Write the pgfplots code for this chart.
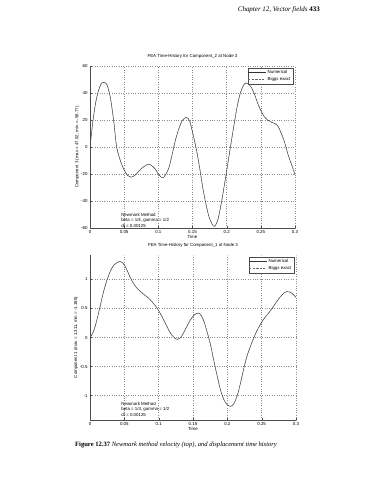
\documentclass[border=0pt]{standalone}
\usepackage{pgfplots}
\pgfplotsset{compat=1.18}
\usepackage{fontspec}
\setmainfont{Liberation Serif}
\newfontfamily\hv{Liberation Sans}
\newcommand{\sm}{\hv\fontsize{4.4}{5.4}\selectfont}

\pgfplotstableread{
t y
0 0
0.004 18
0.008 32
0.012 41
0.016 46.5
0.02 47.9
0.025 46
0.03 36
0.035 18
0.039 0
0.045 -11
0.05 -17
0.055 -21
0.061 -22.3
0.068 -20
0.075 -16
0.086 -12.8
0.095 -16
0.1 -20
0.107 -22.8
0.115 -16
0.12 -6
0.125 5
0.13 13.5
0.135 19.5
0.141 22
0.146 19
0.15 11
0.155 0
0.16 -14
0.165 -30
0.17 -43
0.175 -53
0.1816 -58.8
0.187 -54
0.192 -42
0.198 -24
0.2055 0
0.21 14
0.215 29
0.22 40
0.225 46
0.229 47.4
0.235 45
0.24 40
0.245 33
0.25 27
0.255 22.5
0.26 20
0.265 18.5
0.27 17.5
0.275 15.5
0.28 10
0.285 3
0.29 -6
0.295 -13
0.3 -20.6
}\topdata

\pgfplotstableread{
t y
0 0
0.005 0.1
0.01 0.3
0.015 0.55
0.02 0.8
0.025 1.0
0.03 1.15
0.035 1.25
0.0437 1.31
0.05 1.25
0.055 1.13
0.06 1.0
0.065 0.9
0.07 0.83
0.0777 0.75
0.085 0.68
0.09 0.62
0.097 0.52
0.103 0.4
0.11 0.24
0.115 0.12
0.12 0.03
0.126 -0.03
0.132 0.0
0.138 0.12
0.145 0.28
0.152 0.39
0.158 0.42
0.163 0.36
0.168 0.2
0.175 -0.1
0.18 -0.38
0.185 -0.65
0.19 -0.9
0.195 -1.07
0.2 -1.16
0.204 -1.185
0.209 -1.15
0.215 -0.98
0.22 -0.74
0.225 -0.48
0.23 -0.27
0.238 -0.02
0.245 0.16
0.252 0.3
0.26 0.42
0.268 0.55
0.275 0.67
0.282 0.76
0.287 0.79
0.292 0.78
0.296 0.74
0.3 0.69
}\botdata

\pgfplotsset{
  mystyle/.style={
    scale only axis,
    anchor=south west,
    axis x line*=bottom,
    axis y line*=left,
    axis line style={black!70, line width=0.4pt},
    xmin=0, xmax=0.3,
    xtick={0,0.05,0.1,0.15,0.2,0.25,0.3},
    xticklabels={0,0.05,0.1,0.15,0.2,0.25,0.3},
    grid=major,
    major grid style={dotted, black!45, line width=0.35pt},
    tick align=inside,
    major tick length=2bp,
    tick style={black!70, line width=0.3pt},
    tick label style={font=\sm},
    /pgf/number format/assume math mode=true,
    xticklabel style={yshift=1bp},
    yticklabel style={xshift=1bp},
    label style={font=\sm},
    title style={font=\sm, yshift=-2bp},
    xlabel={Time},
    xlabel style={yshift=5bp},
    ylabel style={yshift=-5bp},
    legend style={font=\sm, at={(rel axis cs:0.99,0.99)}, anchor=north east,
      draw=black!70, line width=0.3pt, inner sep=0.5bp, row sep=-2bp,
      cells={anchor=west}},
    legend image post style={line width=0.3pt},
  }
}

\begin{document}
\begin{tikzpicture}
\useasboundingbox (0,-480bp) rectangle (370bp,0);
\node[anchor=base east, inner sep=0] at (320bp,-11bp)
  {\fontsize{7}{8}\selectfont\itshape Chapter 12, Vector fields \upshape\bfseries 433};

\begin{axis}[mystyle,
  at={(90bp,-228bp)}, width=205bp, height=162bp,
  ymin=-60, ymax=60, ytick={-60,-40,-20,0,20,40,60},
  title={FEA Time{-}History for Component\_2 at Node 3},
  ylabel={Component 3 (max = 47.92, min = -58.77)}]
\addplot[black!80, line width=0.45pt, smooth] table[x=t,y=y] {\topdata};
\addlegendentry{Numerical}
\addplot[black!60, line width=0.35pt, dashed, dash pattern=on 2bp off 1.5bp, smooth] table[x=t,y=y] {\topdata};
\addlegendentry{Biggs exact}
\node[anchor=north west, align=left, font=\sm, inner sep=0] at (axis cs:0.0455,-49)
  {Newmark Method\\beta = 1/4, gamma = 1/2\\dt = 0.00125};
\end{axis}

\begin{axis}[mystyle,
  at={(90bp,-420bp)}, width=206bp, height=165bp,
  ymin=-1.42, ymax=1.42, ytick={-1,-0.5,0,0.5,1},
  yticklabels={-1,-0.5,0,0.5,1},
  title={FEA Time{-}History for Component\_1 at Node 3},
  ylabel={Component 1 (max = 1.311, min = -1.185)}]
\addplot[black!80, line width=0.45pt, smooth] table[x=t,y=y] {\botdata};
\addlegendentry{Numerical}
\addplot[black!60, line width=0.35pt, dashed, dash pattern=on 2bp off 1.5bp, smooth] table[x=t,y=y] {\botdata};
\addlegendentry{Biggs exact}
\node[anchor=north west, align=left, font=\sm, inner sep=0] at (axis cs:0.0455,-1.11)
  {Newmark Method\\beta = 1/4, gamma = 1/2\\dt = 0.00125};
\end{axis}

\node[anchor=base west, inner sep=0] at (75bp,-446bp)
  {\fontsize{6.6}{8}\selectfont\bfseries Figure 12.37 \mdseries\itshape Newmark method velocity (top), and displacement time history};
\end{tikzpicture}
\end{document}
